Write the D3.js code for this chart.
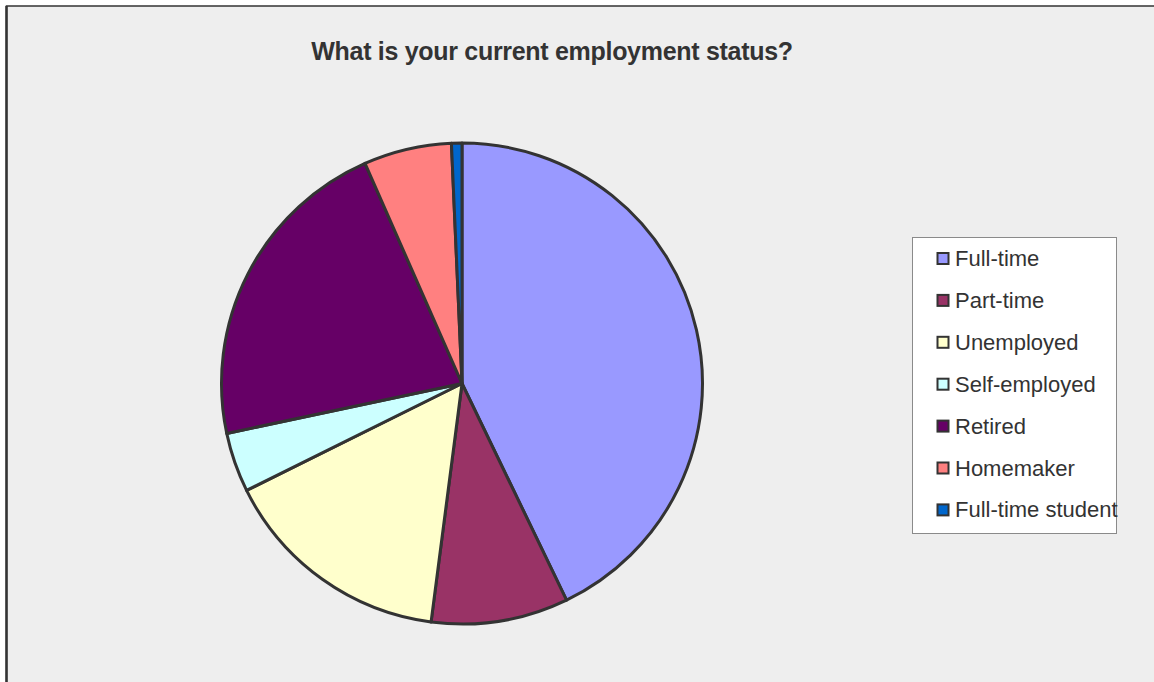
<!DOCTYPE html>
<html>
<head>
<meta charset="utf-8">
<script src="https://cdn.jsdelivr.net/npm/d3@7"></script>
<style>
  html, body { margin: 0; padding: 0; background: #ffffff; }
  svg { display: block; }
</style>
</head>
<body>
<svg id="chart" width="1154" height="682"></svg>
<script>
// Survey answers: share of respondents by employment status (%)
const categories = ["Full-time", "Part-time", "Unemployed", "Self-employed", "Retired", "Homemaker", "Full-time student"];
const values = [42.8, 9.2, 15.6, 4.0, 21.7, 5.9, 0.7];
const colors = ["#9999FF", "#993366", "#FFFFCC", "#CCFFFF", "#660066", "#FF8080", "#0066CC"];
const title = "What is your current employment status?";

const svg = d3.select("#chart");

// Chart area with frame
svg.append("rect")
  .attr("x", 6.5).attr("y", 6)
  .attr("width", 1160).attr("height", 700)
  .attr("fill", "#eeeeee")
  .attr("stroke", "#333333")
  .attr("stroke-width", 1.5);
svg.append("line")
  .attr("x1", 6.5).attr("x2", 6.5).attr("y1", 6).attr("y2", 682)
  .attr("stroke", "#333333").attr("stroke-width", 2.5);

// Title
svg.append("text")
  .attr("x", 552).attr("y", 60)
  .attr("text-anchor", "middle")
  .attr("font-family", "'Liberation Sans', Arial, sans-serif")
  .attr("font-weight", "bold")
  .attr("font-size", 25)
  .attr("letter-spacing", -0.3)
  .attr("fill", "#333333")
  .text(title);

// Pie
const cx = 462, cy = 383.5, r = 240.5;
const pie = d3.pie().sort(null).value(d => d.value);
const arc = d3.arc().innerRadius(0).outerRadius(r);
const data = categories.map((c, i) => ({ name: c, value: values[i], color: colors[i] }));

const g = svg.append("g").attr("transform", `translate(${cx},${cy})`);
g.selectAll("path")
  .data(pie(data))
  .join("path")
  .attr("d", arc)
  .attr("fill", d => d.data.color)
  .attr("stroke", "#333333")
  .attr("stroke-width", 3)
  .attr("stroke-linejoin", "round");

// Legend
const legend = svg.append("g");
legend.append("rect")
  .attr("x", 912.5).attr("y", 237.5)
  .attr("width", 204).attr("height", 296)
  .attr("fill", "#ffffff")
  .attr("stroke", "#8a8a8a")
  .attr("stroke-width", 1);

const y0 = 266, step = 41.9;
const items = legend.selectAll("g.item")
  .data(data)
  .join("g")
  .attr("class", "item")
  .attr("transform", (d, i) => `translate(0,${y0 + i * step})`);
items.append("rect")
  .attr("x", 937.5).attr("y", -13)
  .attr("width", 11).attr("height", 11)
  .attr("fill", d => d.color)
  .attr("stroke", "#333333")
  .attr("stroke-width", 2);
items.append("text")
  .attr("x", 955).attr("y", 0)
  .attr("font-family", "'Liberation Sans', Arial, sans-serif")
  .attr("font-size", 22)
  .attr("fill", "#333333")
  .text(d => d.name);
</script>
</body>
</html>
